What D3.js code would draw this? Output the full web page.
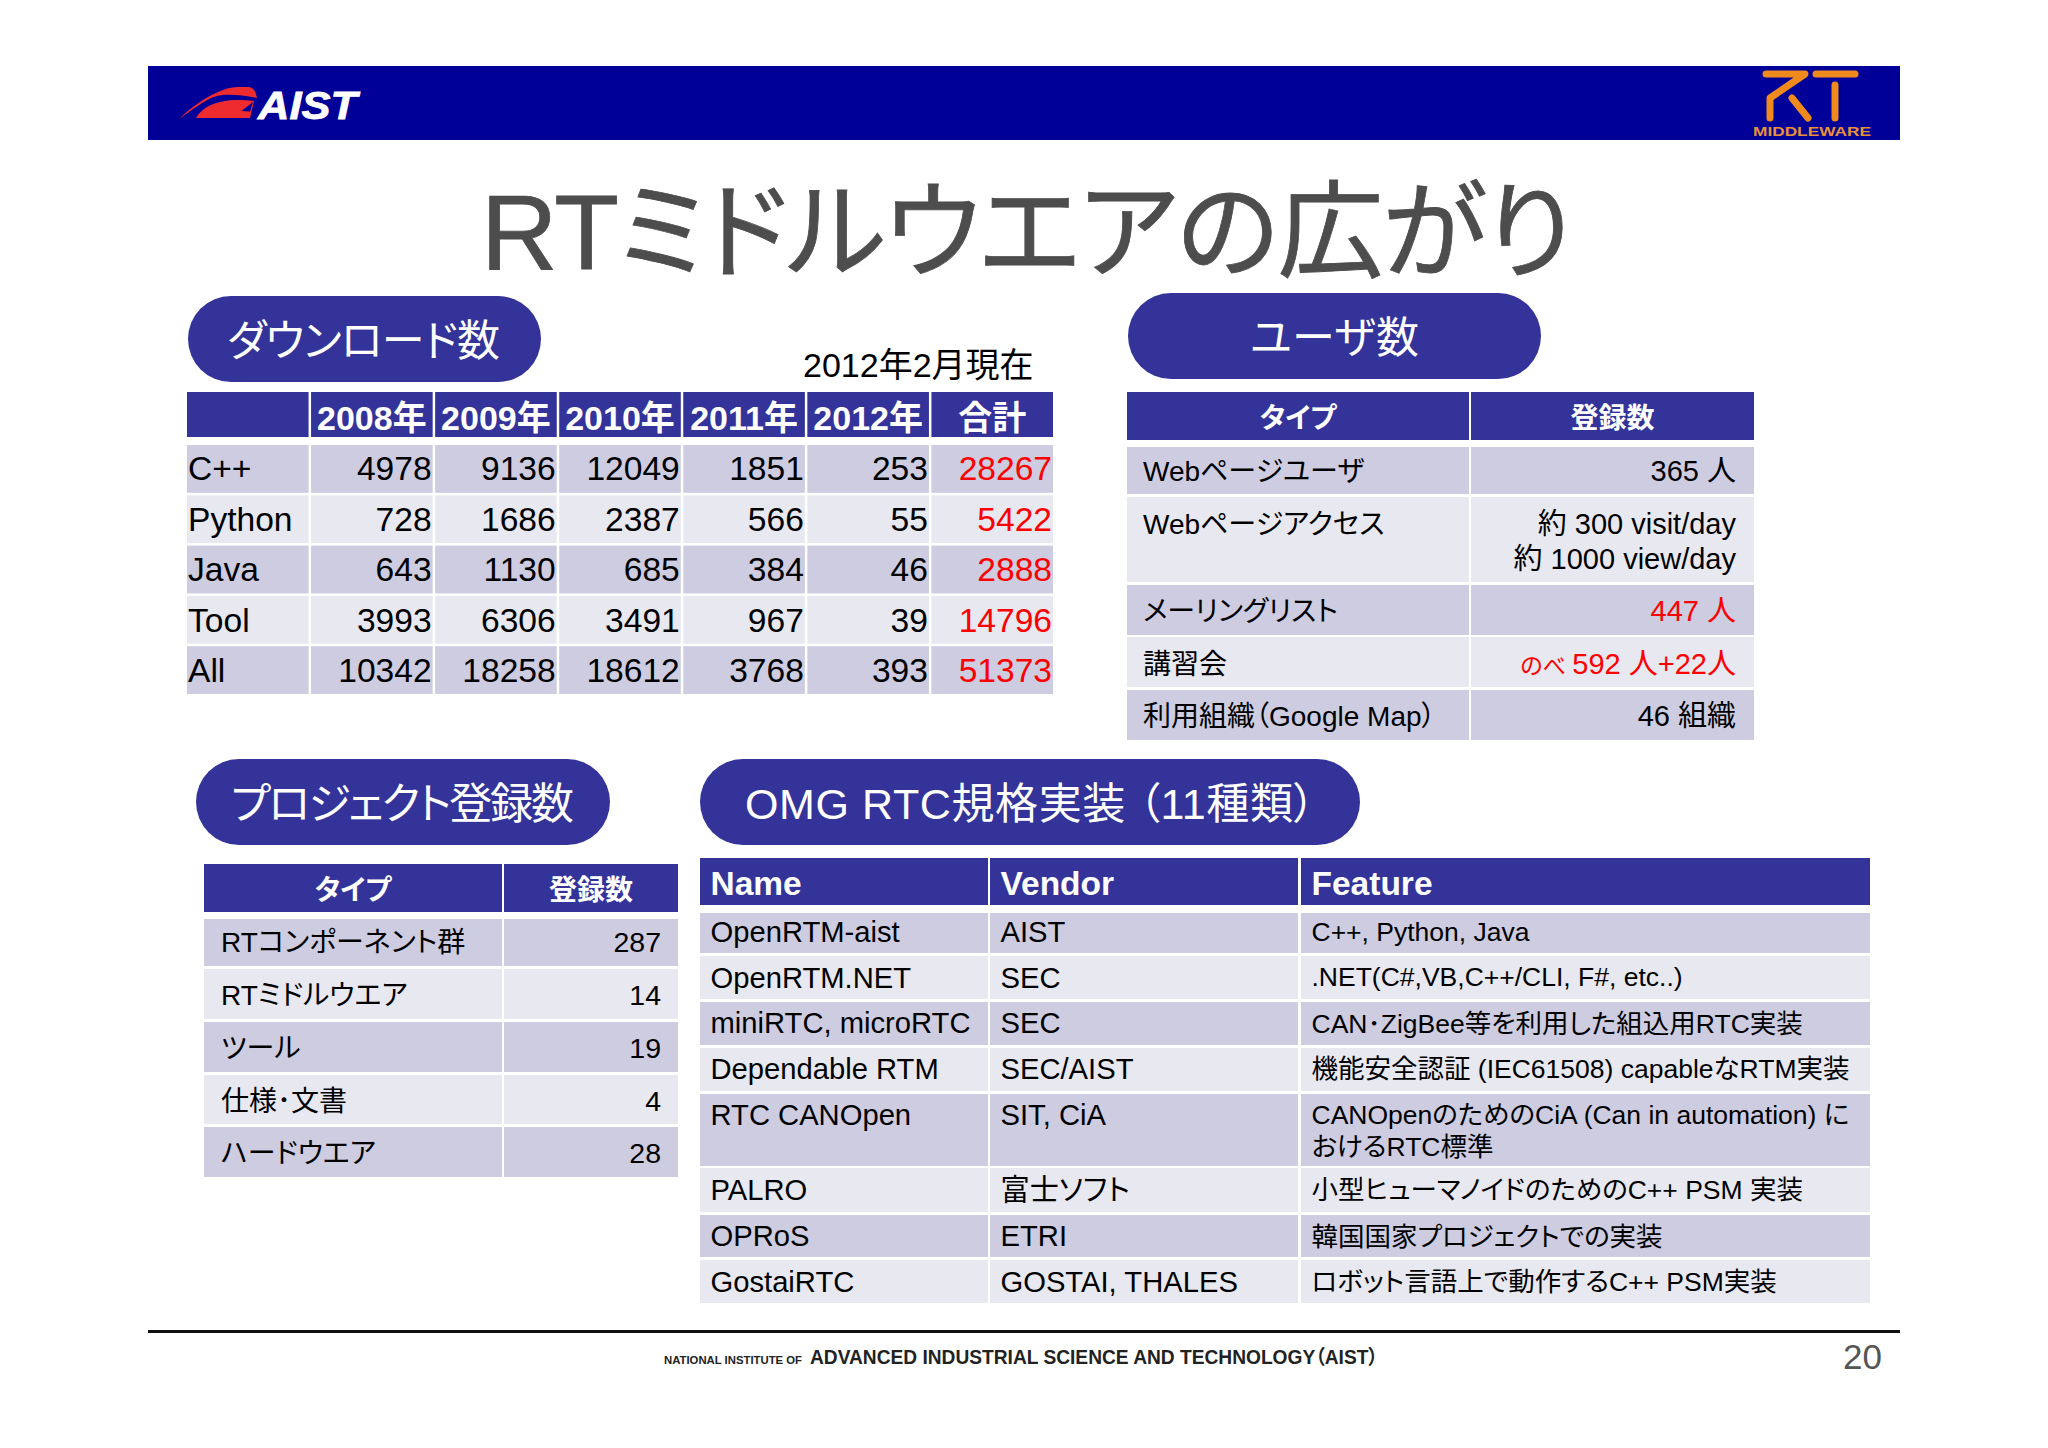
<!DOCTYPE html>
<html>
<head>
<meta charset="utf-8">
<script src="https://cdn.jsdelivr.net/npm/d3@7"></script>
<style>
	html, body { margin: 0; padding: 0; background: #fff; }
	svg { display: block; }
	text { font-family: "Liberation Sans", "Noto Sans CJK JP", sans-serif; font-feature-settings: "palt"; }
</style>
</head>
<body>
<svg id="slide" width="2048" height="1448"></svg>
<script>
const slideTitle = 'RTミドルウエアの広がり';
const asOfLabel = '2012年2月現在';

// download table
const downloadHeader = ['', '2008年', '2009年', '2010年', '2011年', '2012年', '合計'];
const downloadCpp = ['C++', 4978, 9136, 12049, 1851, 253, 28267];
const downloadPython = ['Python', 728, 1686, 2387, 566, 55, 5422];
const downloadJava = ['Java', 643, 1130, 685, 384, 46, 2888];
const downloadTool = ['Tool', 3993, 6306, 3491, 967, 39, 14796];
const downloadAll = ['All', 10342, 18258, 18612, 3768, 393, 51373];

// user table
const userHeader = ['タイプ', '登録数'];
const userTypes = ['Webページユーザ', 'Webページアクセス', 'メーリングリスト', '講習会', '利用組織（Google Map）'];
const userCounts = ['365 人', '約 300 visit/day\n約 1000 view/day', '447 人', 'のべ 592 人+22人', '46 組織'];

// project table
const projectHeader = ['タイプ', '登録数'];
const projectTypes = ['RTコンポーネント群', 'RTミドルウエア', 'ツール', '仕様･文書', 'ハードウエア'];
const projectCounts = [287, 14, 19, 4, 28];

// OMG implementations
const omgHeader = ['Name', 'Vendor', 'Feature'];
const omgNames = ['OpenRTM-aist', 'OpenRTM.NET', 'miniRTC, microRTC', 'Dependable RTM', 'RTC CANOpen', 'PALRO', 'OPRoS', 'GostaiRTC'];
const omgVendors = ['AIST', 'SEC', 'SEC', 'SEC/AIST', 'SIT, CiA', '富士ソフト', 'ETRI', 'GOSTAI, THALES'];
const omgFeatures = [
	'C++, Python, Java',
	'.NET(C#,VB,C++/CLI, F#, etc..)',
	'CAN･ZigBee等を利用した組込用RTC実装',
	'機能安全認証 (IEC61508) capableなRTM実装',
	'CANOpenのためのCiA (Can in automation) に\nおけるRTC標準',
	'小型ヒューマノイドのためのC++ PSM 実装',
	'韓国国家プロジェクトでの実装',
	'ロボット言語上で動作するC++ PSM実装'
];

const NAVY = '#000099';
const BLUE = '#333399';
const ROW_ODD = '#cdcce0';
const ROW_EVEN = '#e8e8f1';

const svg = d3.select('#slide');

// banner
svg.append('rect').attr('x', 148).attr('y', 66).attr('width', 1752).attr('height', 74).attr('fill', NAVY);

// AIST mark
svg.append('path')
	.attr('fill', '#ee2b2e')
	.attr('d', 'M179 119 C196 103 220 87 238 87 L249 87 C254 88 256 92 257 98 C240 94 225 94 217 96 C205 99 191 111 179 119 Z');
svg.append('path')
	.attr('fill', '#ee2b2e')
	.attr('d', 'M196 118 C203 106 220 97 254 101 L250 118 Z');
svg.append('path')
	.attr('fill', NAVY)
	.attr('d', 'M241.5 111 L253 102 L250 111.5 Z');
svg.append('text')
	.attr('x', 258).attr('y', 118.5)
	.attr('font-size', 39).attr('font-weight', 'bold').attr('font-style', 'italic')
	.attr('fill', '#fff').attr('stroke', '#fff').attr('stroke-width', 0.8)
	.attr('textLength', 99).attr('lengthAdjust', 'spacingAndGlyphs')
	.text('AIST');

// RT mark
const rtStrokes = d3.line();
svg.append('g').attr('fill', 'none').attr('stroke', '#f08a1d').attr('stroke-width', 7).attr('stroke-linecap', 'round').attr('stroke-linejoin', 'round')
	.selectAll('path')
	.data([
		[[1766, 74], [1805, 74], [1770, 98], [1770, 118]],
		[[1792, 98], [1808, 118]],
		[[1816, 74], [1855, 74]],
		[[1835, 85], [1835, 118]]
	])
	.join('path')
	.attr('d', rtStrokes);
svg.append('text')
	.attr('x', 1753).attr('y', 136)
	.attr('font-size', 13).attr('font-weight', 'bold').attr('fill', '#e8913a')
	.attr('textLength', 118).attr('lengthAdjust', 'spacingAndGlyphs')
	.text('MIDDLEWARE');

// title
svg.append('text')
	.attr('x', 481).attr('y', 269)
	.attr('font-size', 106).attr('fill', '#4d4d4d').attr('stroke', '#4d4d4d').attr('stroke-width', 0.8)
	.attr('textLength', 1092).attr('lengthAdjust', 'spacing')
	.text(slideTitle);

svg.append('text')
	.attr('x', 803).attr('y', 377)
	.attr('font-size', 34).attr('fill', '#000')
	.text(asOfLabel);

function pill(label, x0, x1, y0, y1, textX, textW, baseline) {
	const g = svg.append('g');
	g.append('rect')
		.attr('x', x0).attr('y', y0)
		.attr('width', x1 - x0).attr('height', y1 - y0)
		.attr('rx', 43).attr('ry', 43)
		.attr('fill', BLUE);
	g.append('text')
		.attr('x', textX).attr('y', baseline)
		.attr('font-size', 43).attr('fill', '#fff')
		.attr('textLength', textW).attr('lengthAdjust', 'spacing')
		.text(label);
}

pill('ダウンロード数', 188, 541, 296, 382, 227, 273, 356);
pill('ユーザ数', 1128, 1541, 293, 379, 1250, 169, 353);
pill('プロジェクト登録数', 196, 610, 759, 845, 231, 343, 819);
pill('OMG RTC規格実装 （11種類）', 700, 1360, 759, 845, 745, 570, 819);

// cols: [left, right] of each column, tops/bottoms: row edges, bases: baseline per text line
function table(t) {
	const g = svg.append('g');
	const colLeft = d3.scaleOrdinal(d3.range(t.cols.length), t.cols.map(d => d[0]));
	const colRight = d3.scaleOrdinal(d3.range(t.cols.length), t.cols.map(d => d[1]));

	g.selectAll('rect.head')
		.data(t.header)
		.join('rect')
		.attr('class', 'head')
		.attr('x', (d, i) => colLeft(i))
		.attr('y', t.headY[0])
		.attr('width', (d, i) => colRight(i) - colLeft(i))
		.attr('height', t.headY[1] - t.headY[0])
		.attr('fill', BLUE);

	g.selectAll('text.head')
		.data(t.header)
		.join('text')
		.attr('class', 'head')
		.attr('x', (d, i) => t.headAlign === 'start' ? colLeft(i) + t.pad : (colLeft(i) + colRight(i)) / 2)
		.attr('y', t.headBase)
		.attr('text-anchor', t.headAlign === 'start' ? 'start' : 'middle')
		.attr('font-size', t.headSize)
		.attr('font-weight', 'bold')
		.attr('fill', '#fff')
		.text(d => d);

	const rows = g.selectAll('g.row')
		.data(t.rows)
		.join('g')
		.attr('class', 'row');

	rows.selectAll('rect')
		.data((r, ri) => r.map((v, ci) => ({ ri, ci })))
		.join('rect')
		.attr('x', d => colLeft(d.ci))
		.attr('y', d => t.tops[d.ri])
		.attr('width', d => colRight(d.ci) - colLeft(d.ci))
		.attr('height', d => t.bottoms[d.ri] - t.tops[d.ri])
		.attr('fill', d => d.ri % 2 ? ROW_EVEN : ROW_ODD);

	const cells = rows.selectAll('text')
		.data((r, ri) => r.flatMap((v, ci) => String(v).split('\n').map((line, li) => ({ line, li, ri, ci }))))
		.join('text')
		.attr('x', d => t.align(d.ci) === 'end' ? colRight(d.ci) - t.padEnd : colLeft(d.ci) + t.pad)
		.attr('y', d => t.bases(d.ri, d.ci, d.li))
		.attr('text-anchor', d => t.align(d.ci))
		.attr('font-size', d => t.size(d.ci))
		.attr('fill', d => t.color(d.ri, d.ci));

	cells.each(function (d) {
		const el = d3.select(this);
		// the のべ prefix is set smaller
		if (d.line.startsWith('のべ')) {
			el.append('tspan').attr('font-size', 23).text('のべ ');
			el.append('tspan').text(d.line.slice(3));
		} else {
			el.text(d.line);
		}
	});
}

const dlBand = d3.scaleBand().domain(d3.range(7)).range([187, 1053]).paddingInner(0.02);
const dlRows = d3.scaleBand().domain(d3.range(5)).range([445, 694]).paddingInner(0.05);
const dlBases = [479.5, 530.5, 581, 631.5, 682];
table({
	header: downloadHeader,
	rows: [downloadCpp, downloadPython, downloadJava, downloadTool, downloadAll],
	cols: d3.range(7).map(i => [dlBand(i), dlBand(i) + dlBand.bandwidth()]),
	headY: [392, 437], headBase: 429.5, headSize: 34,
	tops: d3.range(5).map(i => dlRows(i)),
	bottoms: d3.range(5).map(i => dlRows(i) + dlRows.bandwidth()),
	bases: (ri) => dlBases[ri],
	pad: 1, padEnd: 1,
	align: ci => ci === 0 ? 'start' : 'end',
	size: () => 33.6,
	color: (ri, ci) => ci === 6 ? '#ff0000' : '#000'
});

const userBases = [[481], [534, 569], [621], [674], [726]];
table({
	header: userHeader,
	rows: userTypes.map((d, i) => [d, userCounts[i]]),
	cols: [[1127, 1469], [1471, 1754]],
	headY: [392, 440], headBase: 428, headSize: 28,
	tops: [447, 497, 585, 637, 690],
	bottoms: [494, 582, 635, 687, 740],
	bases: (ri, ci, li) => userBases[ri][li],
	pad: 16, padEnd: 18,
	align: ci => ci === 0 ? 'start' : 'end',
	size: ci => ci === 1 ? 29 : 28,
	color: (ri, ci) => ci === 1 && (ri === 2 || ri === 3) ? '#ff0000' : '#000'
});

const projectBases = [952, 1005, 1058, 1111, 1163];
table({
	header: projectHeader,
	rows: projectTypes.map((d, i) => [d, projectCounts[i]]),
	cols: [[204, 502], [504, 678]],
	headY: [864, 912], headBase: 900, headSize: 28,
	tops: [919, 969, 1022, 1075, 1127],
	bottoms: [966, 1019, 1072, 1124, 1177],
	bases: (ri) => projectBases[ri],
	pad: 17, padEnd: 17,
	align: ci => ci === 0 ? 'start' : 'end',
	size: ci => ci === 1 ? 28.5 : 28,
	color: () => '#000'
});

const omgBases = [942, 988, 1033, 1079, 1125, 1200, 1246, 1292];
const omgFeatureBases = [[941], [986], [1033], [1078], [1124, 1156], [1199], [1246], [1291]];
table({
	header: omgHeader,
	rows: omgNames.map((d, i) => [d, omgVendors[i], omgFeatures[i]]),
	cols: [[700, 988], [990, 1298], [1301, 1870]],
	headY: [858, 905], headBase: 895, headSize: 33.5, headAlign: 'start',
	tops: [913, 956, 1002, 1048, 1094, 1168, 1215, 1260],
	bottoms: [953, 999, 1045, 1091, 1166, 1212, 1257, 1303],
	pad: 10.5, padEnd: 10,
	bases: (ri, ci, li) => ci === 2 ? omgFeatureBases[ri][li] : omgBases[ri],
	align: () => 'start',
	size: ci => ci === 2 ? 26.5 : 29.2,
	color: () => '#000'
});

// footer
svg.append('rect').attr('x', 148).attr('y', 1330).attr('width', 1752).attr('height', 3).attr('fill', '#111');
svg.append('text')
	.attr('x', 664).attr('y', 1364)
	.attr('font-size', 11.5).attr('font-weight', 'bold').attr('fill', '#222')
	.attr('textLength', 138).attr('lengthAdjust', 'spacingAndGlyphs')
	.text('NATIONAL INSTITUTE OF');
svg.append('text')
	.attr('x', 810).attr('y', 1364)
	.attr('font-size', 20).attr('font-weight', 'bold').attr('fill', '#222')
	.attr('textLength', 568).attr('lengthAdjust', 'spacingAndGlyphs')
	.text('ADVANCED INDUSTRIAL SCIENCE AND TECHNOLOGY（AIST）');
svg.append('text')
	.attr('x', 1882).attr('y', 1369)
	.attr('text-anchor', 'end')
	.attr('font-size', 35).attr('fill', '#555')
	.text('20');
</script>
</body>
</html>
